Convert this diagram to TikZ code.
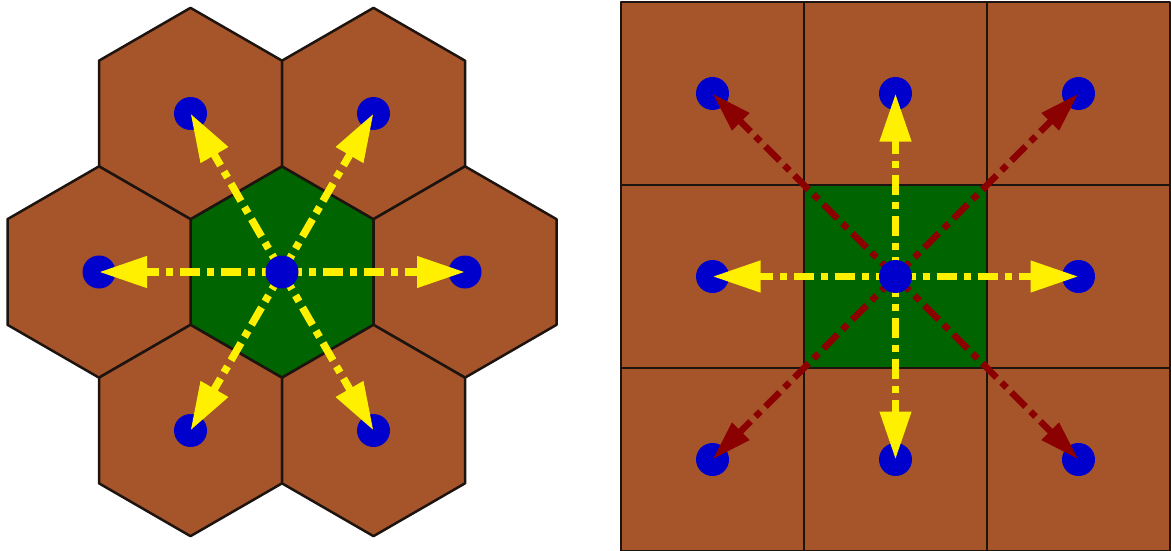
\documentclass[tikz,border=0pt]{standalone}
\usetikzlibrary{arrows.meta}
\definecolor{brownc}{RGB}{166,84,42}
\definecolor{greenc}{RGB}{0,100,0}
\definecolor{bluec}{RGB}{0,0,205}
\definecolor{yellowc}{RGB}{255,240,0}
\definecolor{redc}{RGB}{139,0,0}
\definecolor{edgec}{RGB}{30,20,15}
\begin{document}
\begin{tikzpicture}[x=1pt,y=-1pt,
  cell/.style={fill=brownc,draw=edgec,line width=2.5pt,line join=round},
  ctrcell/.style={fill=greenc,draw=edgec,line width=2.5pt,line join=round},
  dot/.style={circle,fill=bluec,minimum size=33pt,inner sep=0pt},
  yarr/.style={draw=yellowc,line width=7.5pt,dash pattern=on 20pt off 7pt on 7pt off 7pt,
    -{Triangle[length=48pt,width=30pt,fill=yellowc]}},
  rarr/.style={draw=redc,line width=6.5pt,dash pattern=on 20pt off 7pt on 7pt off 7pt,
    -{Triangle[length=40pt,width=23pt,fill=redc]}}]
\useasboundingbox (0,0) rectangle (1171,551);
% ---------- hexagonal grid ----------
\foreach \cx/\cy/\st in {282/272/ctrcell, 190.5/113.5/cell, 373.5/113.5/cell, 99/272/cell, 465/272/cell, 190.5/430.5/cell, 373.5/430.5/cell}{
  \draw[\st] (\cx,{\cy-105.65}) -- ({\cx+91.5},{\cy-52.83}) -- ({\cx+91.5},{\cy+52.83})
    -- (\cx,{\cy+105.65}) -- ({\cx-91.5},{\cy+52.83}) -- ({\cx-91.5},{\cy-52.83}) -- cycle;
}
\node[dot] (htl) at (190.5,113.5) {};
\node[dot] (htr) at (373.5,113.5) {};
\node[dot] (hl) at (99,272) {};
\node[dot] (hr) at (465,272) {};
\node[dot] (hbl) at (190.5,430.5) {};
\node[dot] (hbr) at (373.5,430.5) {};
\coordinate (hc) at (282,272);
\foreach \t in {htl,htr,hl,hr,hbl,hbr}{
  \draw[yarr] (hc) -- (\t.center);
}
\node[dot] (hctr) at (hc) {};
% ---------- square grid ----------
\foreach \i in {0,1,2}{
  \foreach \j in {0,1,2}{
    \draw[cell] ({621+183*\i},{2+183*\j}) rectangle ++(183,183);
  }
}
\draw[ctrcell] (804,185) rectangle ++(183,183);
\node[dot] (s00) at (712.5,93.5) {};
\node[dot] (s10) at (895.5,93.5) {};
\node[dot] (s20) at (1078.5,93.5) {};
\node[dot] (s01) at (712.5,276.5) {};
\node[dot] (s21) at (1078.5,276.5) {};
\node[dot] (s02) at (712.5,459.5) {};
\node[dot] (s12) at (895.5,459.5) {};
\node[dot] (s22) at (1078.5,459.5) {};
\coordinate (sc) at (895.5,276.5);
\foreach \t in {s00,s20,s02,s22}{
  \draw[rarr] (sc) -- (\t.center);
}
\foreach \t in {s10,s01,s21,s12}{
  \draw[yarr] (sc) -- (\t.center);
}
\node[dot] (sctr) at (sc) {};
\end{tikzpicture}
\end{document}
